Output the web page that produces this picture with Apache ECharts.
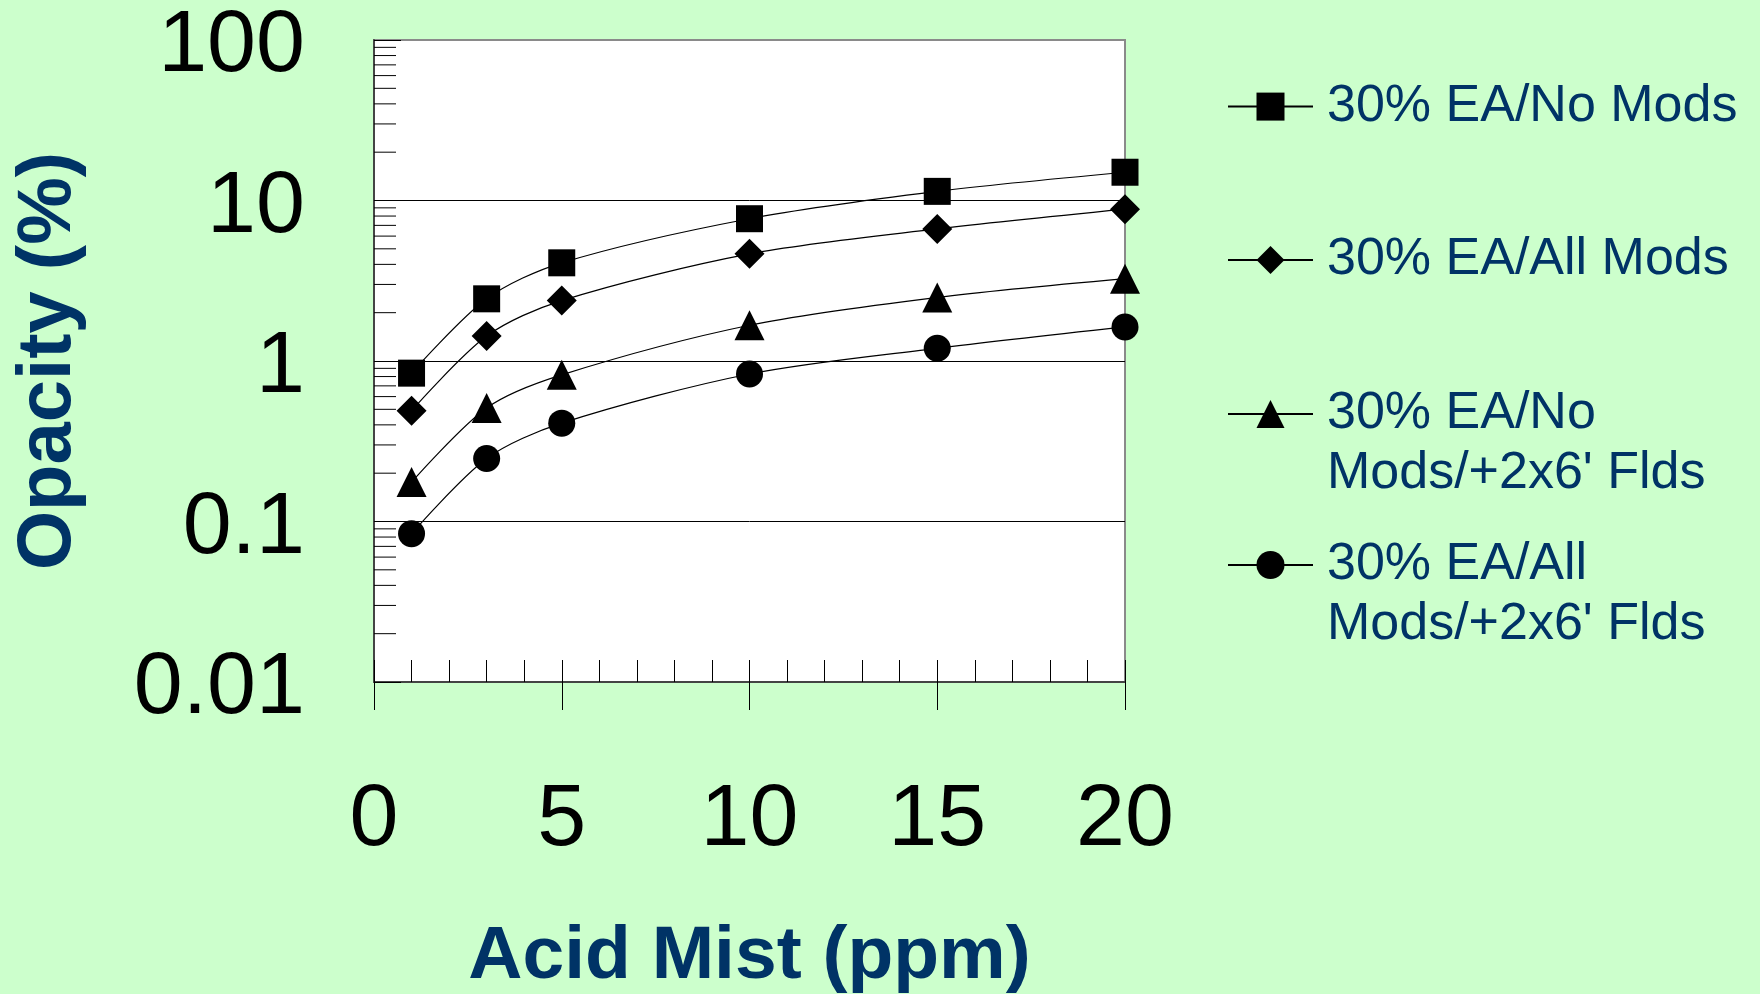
<!DOCTYPE html>
<html>
<head>
<meta charset="utf-8">
<title>Opacity vs Acid Mist</title>
<script src="https://cdn.jsdelivr.net/npm/echarts@6/dist/echarts.min.js"></script>
<style>
  html, body { margin: 0; padding: 0; background: #CCFFCC; }
  #chart { width: 1760px; height: 994px; }
</style>
</head>
<body>
<div id="chart"></div>
<script>
// Acid mist concentrations (ppm) at which opacity was evaluated
const acidMist = [1, 3, 5, 10, 15, 20];

// Opacity (%) for each configuration
const noMods = [0.84, 2.44, 4.09, 7.7, 11.4, 15.0];
const allMods = [0.49, 1.43, 2.38, 4.65, 6.65, 8.83];
const noModsFlds = [0.176, 0.51, 0.82, 1.67, 2.49, 3.26];
const allModsFlds = [0.084, 0.247, 0.41, 0.83, 1.2, 1.63];

const seriesNames = [
  '30% EA/No Mods',
  '30% EA/All Mods',
  "30% EA/No\nMods/+2x6' Flds",
  "30% EA/All\nMods/+2x6' Flds"
];

// Axis tick labels
const xTickLabels = ['0', '5', '10', '15', '20'];
const yTickLabels = ['0.01', '0.1', '1', '10', '100'];

// Intermediate log ticks (2..9 of each decade)
const yMinorTicks = [
  0.02, 0.03, 0.04, 0.05, 0.06, 0.07, 0.08, 0.09,
  0.2, 0.3, 0.4, 0.5, 0.6, 0.7, 0.8, 0.9,
  2, 3, 4, 5, 6, 7, 8, 9,
  20, 30, 40, 50, 60, 70, 80, 90
];

const FONT = "'Liberation Sans', Arial, sans-serif";
const NAVY = '#003366';

const seriesValues = [noMods, allMods, noModsFlds, allModsFlds];
const symbols = ['rect', 'diamond', 'triangle', 'circle'];
const symbolSizes = [27, 30, 30, 27];

const lineSeries = seriesValues.map((vals, i) => ({
  name: seriesNames[i],
  type: 'line',
  data: acidMist.map((x, j) => [x, vals[j]]),
  symbol: symbols[i],
  symbolSize: symbolSizes[i],
  smooth: 0.3,
  z: 5,
  itemStyle: { color: '#000' },
  lineStyle: { color: '#000', width: 1.2 },
  emphasis: { disabled: true }
}));

// Short inward ticks on the log axis
const minorTickSeries = {
  type: 'custom',
  silent: true,
  z: 3,
  data: yMinorTicks.map(v => [0, v]),
  renderItem: (params, api) => {
    const p = api.coord([0, api.value(1)]);
    return {
      type: 'line',
      shape: { x1: p[0], y1: p[1], x2: p[0] + 22, y2: p[1] },
      style: { stroke: '#000', lineWidth: 1 }
    };
  }
};

// One legend block per series; two-line entries get a blank leading line so the
// marker sits beside their first line
const legendTops = [76.6, 230, 324, 475];
const legends = seriesNames.map((name, i) => ({
  data: [name],
  left: 1227,
  top: legendTops[i],
  orient: 'vertical',
  padding: 0,
  itemWidth: 85,
  itemHeight: 35,
  selectedMode: false,
  formatter: n => (n.indexOf('\n') >= 0 ? '\n' + n : n),
  textStyle: {
    fontFamily: FONT,
    fontSize: 52,
    color: NAVY,
    lineHeight: 60,
    padding: [0, 0, 0, 9]
  }
}));

const chart = echarts.init(document.getElementById('chart'));
chart.setOption({
  backgroundColor: '#CCFFCC',
  animation: false,
  legend: legends,
  grid: {
    left: 374, right: 635, top: 40, bottom: 312,
    outerBoundsMode: 'none',
    containLabel: false,
    show: true,
    backgroundColor: '#fff',
    borderColor: '#8a8a8a',
    borderWidth: 2
  },
  xAxis: [
    {
      type: 'value',
      min: 0, max: 20, interval: 5,
      name: 'Acid Mist (ppm)',
      nameLocation: 'middle',
      nameGap: 238,
      nameTextStyle: { fontFamily: FONT, fontSize: 75, fontWeight: 'bold', color: NAVY },
      axisLine: { show: true, lineStyle: { color: '#444', width: 2 } },
      axisTick: { show: true, inside: true, length: 22, lineStyle: { color: '#000', width: 1 } },
      minorTick: { show: true, splitNumber: 5, length: 22, lineStyle: { color: '#000', width: 1 } },
      splitLine: { show: false },
      axisLabel: {
        margin: 95,
        fontFamily: FONT, fontSize: 88, color: '#000',
        formatter: v => xTickLabels[Math.round(v / 5)]
      }
    },
    {
      type: 'value',
      position: 'bottom',
      min: 0, max: 20, interval: 5,
      axisLine: { show: false },
      axisTick: { show: true, inside: false, length: 28, lineStyle: { color: '#000', width: 1 } },
      axisLabel: { show: false },
      splitLine: { show: false }
    }
  ],
  yAxis: {
    type: 'log',
    logBase: 10,
    min: 0.01, max: 100,
    name: 'Opacity (%)',
    nameLocation: 'middle',
    nameGap: 287,
    nameTextStyle: { fontFamily: FONT, fontSize: 76, fontWeight: 'bold', color: NAVY },
    axisLine: { show: true, lineStyle: { color: '#444', width: 2 } },
    axisTick: { show: true, inside: true, length: 27, lineStyle: { color: '#000', width: 1 } },
    splitLine: { show: true, showMinLine: false, showMaxLine: false, lineStyle: { color: '#000', width: 1 } },
    axisLabel: {
      margin: 69,
      verticalAlign: 'top',
      lineHeight: 14,
      fontFamily: FONT, fontSize: 88, color: '#000',
      formatter: v => yTickLabels[Math.round(Math.log10(v)) + 2]
    }
  },
  series: [minorTickSeries, ...lineSeries]
});
</script>
</body>
</html>
